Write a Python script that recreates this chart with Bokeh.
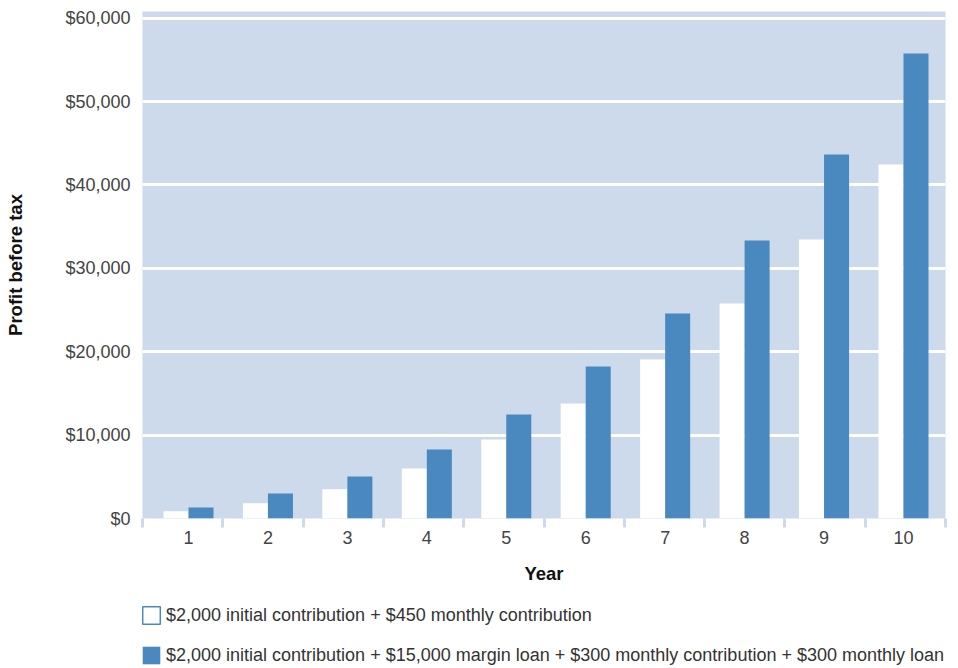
from bokeh.plotting import figure
from bokeh.layouts import column
from bokeh.models import Range1d, FixedTicker, NumeralTickFormatter, Legend, LegendItem, ColumnDataSource
from bokeh.transform import dodge
from bokeh.embed import file_html
from bokeh.resources import INLINE
import numpy as np

years = [1, 2, 3, 4, 5, 6, 7, 8, 9, 10]
year_labels = ["1", "2", "3", "4", "5", "6", "7", "8", "9", "10"]
contribution_only = [880, 1830, 3510, 6000, 9470, 13800, 19060, 25780, 33450, 42450]
with_margin_loan = [1320, 3000, 5040, 8270, 12470, 18230, 24580, 33330, 43650, 55750]
y_ticks = [0, 10000, 20000, 30000, 40000, 50000, 60000]
series_labels = [
    "$2,000 initial contribution + $450 monthly contribution",
    "$2,000 initial contribution + $15,000 margin loan + $300 monthly contribution + $300 monthly loan",
]

BLUE = "#4a89c0"
BG = "#cddaeb"
FONT = "Liberation Sans"

x_start, x_end = 0.421, 10.529

p = figure(width=950, height=595, output_backend="svg", toolbar_location=None,
           x_range=Range1d(x_start, x_end), y_range=Range1d(0, 60800),
           min_border_left=142, min_border_right=5, min_border_top=11, min_border_bottom=77)
p.background_fill_color = BG
p.border_fill_color = "white"
p.outline_line_color = None

src = ColumnDataSource(dict(year=years, a=contribution_only, b=with_margin_loan))
bw = 0.315
p.vbar(x=dodge("year", -bw / 2, range=p.x_range), top="a", width=bw, source=src,
       fill_color="white", line_color=None)
p.vbar(x=dodge("year", bw / 2, range=p.x_range), top="b", width=bw, source=src,
       fill_color=BLUE, line_color=None)

# grids
p.xgrid.visible = False
p.ygrid.ticker = FixedTicker(ticks=y_ticks)
p.ygrid.grid_line_color = "white"
p.ygrid.grid_line_width = 3

# y axis
ya = p.yaxis[0]
ya.ticker = FixedTicker(ticks=y_ticks)
ya.formatter = NumeralTickFormatter(format="$0,0")
ya.axis_line_color = None
ya.major_tick_line_color = None
ya.minor_tick_line_color = None
ya.major_tick_out = 0
ya.major_tick_in = 0
ya.major_label_standoff = 12
ya.major_label_text_font = FONT
ya.major_label_text_font_size = "18px"
ya.major_label_text_color = "#444444"
ya.axis_label = "Profit before tax"
ya.axis_label_text_font = FONT
ya.axis_label_text_font_size = "18.5px"
ya.axis_label_text_font_style = "bold"
ya.axis_label_text_color = "#111111"
ya.axis_label_standoff = 36

# x axis
xa = p.xaxis[0]
seps = list(np.linspace(x_start, x_end, 11))
xa.ticker = FixedTicker(ticks=years, minor_ticks=seps)
xa.major_label_overrides = {y: l for y, l in zip(years, year_labels)}
xa.axis_line_color = None
xa.major_tick_line_color = None
xa.major_tick_out = 0
xa.major_tick_in = 0
xa.minor_tick_line_color = BG
xa.minor_tick_line_width = 3
xa.minor_tick_out = 9
xa.minor_tick_in = 0
xa.major_label_standoff = 3
xa.major_label_text_font = FONT
xa.major_label_text_font_size = "18px"
xa.major_label_text_color = "#444444"
xa.axis_label = "Year"
xa.axis_label_text_font = FONT
xa.axis_label_text_font_size = "18.5px"
xa.axis_label_text_font_style = "bold"
xa.axis_label_text_color = "#111111"
xa.axis_label_standoff = 16

# legend figure
lg = figure(width=950, height=73, output_backend="svg", toolbar_location=None,
            x_range=Range1d(0, 1), y_range=Range1d(0, 1), min_border=0)
lg.axis.visible = False
lg.grid.visible = False
lg.outline_line_color = None
lg.background_fill_color = "white"
lg.border_fill_color = "white"
r1 = lg.vbar(x=[-50], top=[-50], bottom=[-51], width=0.3, fill_color="white", line_color=BLUE, line_width=1.5)
r2 = lg.vbar(x=[-50], top=[-50], bottom=[-51], width=0.3, fill_color=BLUE, line_color=None)

legend = Legend(items=[LegendItem(label=series_labels[0], renderers=[r1]),
                       LegendItem(label=series_labels[1], renderers=[r2])],
                location=(-2, 2), orientation="vertical")
legend.border_line_color = None
legend.background_fill_alpha = 0
legend.margin = 0
legend.padding = 0
legend.spacing = 18
legend.glyph_width = 22
legend.glyph_height = 22
legend.label_standoff = 4
legend.label_text_font = FONT
legend.label_text_font_size = "18px"
legend.label_text_color = "#333333"
legend.label_height = 22
lg.add_layout(legend, "center")

layout = column(p, lg, spacing=0)
open("out.html", "w").write(file_html(layout, INLINE))
